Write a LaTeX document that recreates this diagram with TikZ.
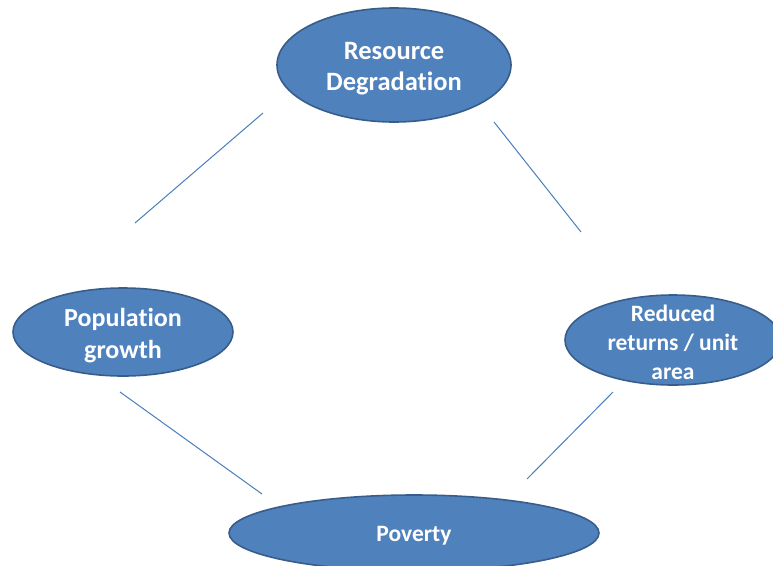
\documentclass[tikz,border=0pt]{standalone}
\usepackage{fontspec}
\setmainfont[Ligatures={TeX,NoCommon}]{Carlito}
\usetikzlibrary{shapes.geometric}
\definecolor{nodefill}{HTML}{4F81BD}
\definecolor{nodeborder}{HTML}{385D8A}
\definecolor{linkcol}{HTML}{4A7EBB}
\tikzset{
  bubble/.style={ellipse, draw=nodeborder, line width=1.6pt, fill=nodefill,
    inner sep=0pt},
  bubbletext/.style={text=white, font=\bfseries, align=center, inner sep=0pt},
  link/.style={draw=linkcol, line width=1pt}
}
\begin{document}
\begin{tikzpicture}[x=1pt,y=-1pt]
\useasboundingbox (0,0) rectangle (773,565);
\node[bubble, minimum width=234pt, minimum height=114pt,
  label={[bubbletext, yshift=-3.5pt, font=\bfseries\fontsize{26.5}{31}\selectfont]center:{Resource\\Degradation}}] (rd) at (394,65) {};
\node[bubble, minimum width=220pt, minimum height=88pt,
  label={[bubbletext, yshift=-4pt, font=\bfseries\fontsize{26}{32}\selectfont]center:{Population\\growth}}] (pg) at (123,332) {};
\node[bubble, minimum width=216pt, minimum height=90pt,
  label={[bubbletext, yshift=-2.5pt, font=\bfseries\fontsize{23.5}{29}\selectfont]center:{Reduced\\returns / unit\\area}}] (rr) at (673,340) {};
\node[bubble, minimum width=370pt, minimum height=76pt,
  label={[bubbletext, yshift=-2.5pt, font=\bfseries\fontsize{23.5}{28}\selectfont]center:{Poverty}}] (pv) at (414,533) {};
\coordinate (a1) at (263,113);
\coordinate (a2) at (135,223);
\coordinate (b1) at (494,122);
\coordinate (b2) at (581,232);
\coordinate (c1) at (120,392);
\coordinate (c2) at (262,494);
\coordinate (d1) at (613,392);
\coordinate (d2) at (527,479);
\draw[link] (a1) -- (a2);
\draw[link] (b1) -- (b2);
\draw[link] (c1) -- (c2);
\draw[link] (d1) -- (d2);
\end{tikzpicture}
\end{document}
